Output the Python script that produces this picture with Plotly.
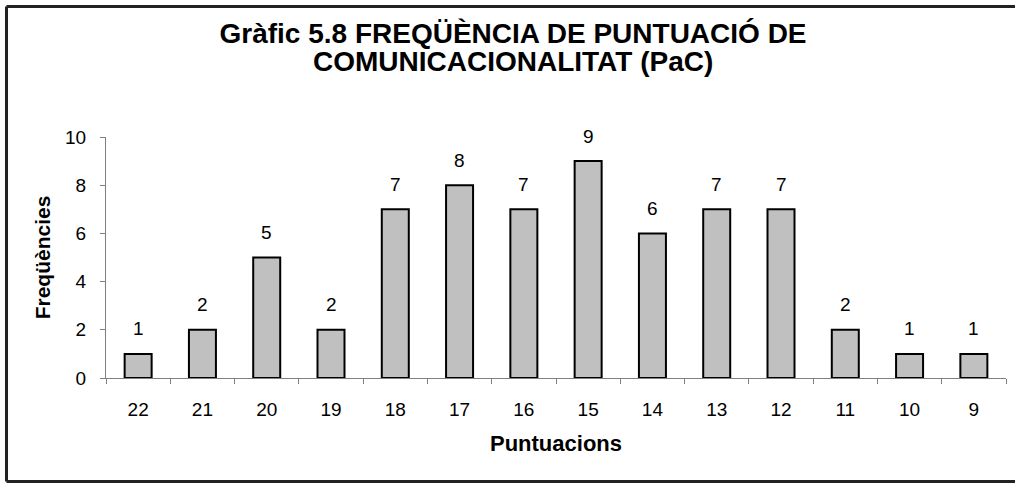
import plotly.graph_objects as go

categories = ["22", "21", "20", "19", "18", "17", "16", "15", "14", "13", "12", "11", "10", "9"]
frequencies = [1, 2, 5, 2, 7, 8, 7, 9, 6, 7, 7, 2, 1, 1]
y_ticks = [0, 2, 4, 6, 8, 10]

title_line1 = "Gràfic 5.8 FREQÜÈNCIA DE PUNTUACIÓ DE"
title_line2 = "COMUNICACIONALITAT (PaC)"
x_title = "Puntuacions"
y_title = "Freqüències"

FONT = "Liberation Sans, Arial, sans-serif"
TICK_SIZE = 19
TITLE_SIZE = 28

W, H = 1015, 483
PLOT_X0, PLOT_X1 = 106, 1006
PLOT_Y0, PLOT_Y1 = 137, 378
L = PLOT_X0
R = W - PLOT_X1
T = PLOT_Y0
B = H - PLOT_Y1
pw, ph = W - L - R, H - T - B


def px_to_paper_x(px):
    return (px - PLOT_X0) / pw


def px_to_paper_y(py):
    return (PLOT_Y1 - py) / ph


fig = go.Figure()
fig.add_trace(go.Bar(
    x=categories,
    y=frequencies,
    width=0.42,
    marker=dict(color="#C0C0C0", line=dict(color="#000000", width=2)),
    showlegend=False,
    hoverinfo="x+y",
))

annotations = [
    dict(x=i, y=v, xref="x", yref="y", text=str(v), showarrow=False,
         yshift=25, font=dict(family=FONT, size=TICK_SIZE, color="#000"))
    for i, v in enumerate(frequencies)
]
annotations.append(dict(
    x=px_to_paper_x(513), y=px_to_paper_y(61), xref="paper", yref="paper",
    text="<b>" + title_line2 + "</b>", showarrow=False,
    xanchor="center", yanchor="middle",
    font=dict(family=FONT, size=TITLE_SIZE, color="#000"),
))

bx0 = px_to_paper_x(6.5)
bx1 = px_to_paper_x(1040)
by_top = px_to_paper_y(6.5)
by_bot = px_to_paper_y(481.5)
border = dict(color="#222", width=3)
shapes = [
    dict(type="line", xref="paper", yref="paper", x0=bx0, x1=bx0, y0=by_bot, y1=by_top, line=border, layer="below"),
    dict(type="line", xref="paper", yref="paper", x0=bx0, x1=bx1, y0=by_top, y1=by_top, line=border, layer="below"),
    dict(type="line", xref="paper", yref="paper", x0=bx0, x1=bx1, y0=by_bot, y1=by_bot, line=border, layer="below"),
]

fig.update_layout(
    width=W, height=H,
    margin=dict(l=L, r=R, t=T, b=B, pad=0),
    paper_bgcolor="white",
    plot_bgcolor="white",
    font=dict(family=FONT, size=TICK_SIZE, color="#000"),
    title=dict(
        text="<b>" + title_line1 + "</b>",
        font=dict(family=FONT, size=TITLE_SIZE, color="#000"),
        x=px_to_paper_x(513), xref="paper", xanchor="center",
        y=1 - 33 / H, yref="container", yanchor="middle",
    ),
    xaxis=dict(
        type="category",
        range=[-0.5, len(categories) - 0.5],
        automargin=False,
        showline=True, linecolor="#808080", linewidth=1,
        ticks="outside", tickson="boundaries", ticklen=5, tickcolor="#808080",
        showgrid=False, zeroline=False,
        tickfont=dict(family=FONT, size=TICK_SIZE, color="#000"),
        ticklabelstandoff=14,
        title=dict(text="<b>" + x_title + "</b>", font=dict(family=FONT, size=22, color="#000"), standoff=16),
    ),
    yaxis=dict(
        range=[0, 10], tickvals=y_ticks,
        automargin=False,
        showline=True, linecolor="#808080", linewidth=1,
        ticks="outside", ticklen=5, tickcolor="#808080",
        showgrid=False, zeroline=False,
        tickfont=dict(family=FONT, size=TICK_SIZE, color="#000"),
        ticklabelstandoff=10,
        title=dict(text="<b>" + y_title + "</b>", font=dict(family=FONT, size=21, color="#000"), standoff=8),
    ),
    annotations=annotations,
    shapes=shapes,
)

# Remove the default page margin so the 1015x483 figure fills the window exactly.
fig.write_html(
    "out.html",
    config={"displayModeBar": False},
    post_script="document.body.style.margin='0';document.body.style.overflow='hidden';",
)
